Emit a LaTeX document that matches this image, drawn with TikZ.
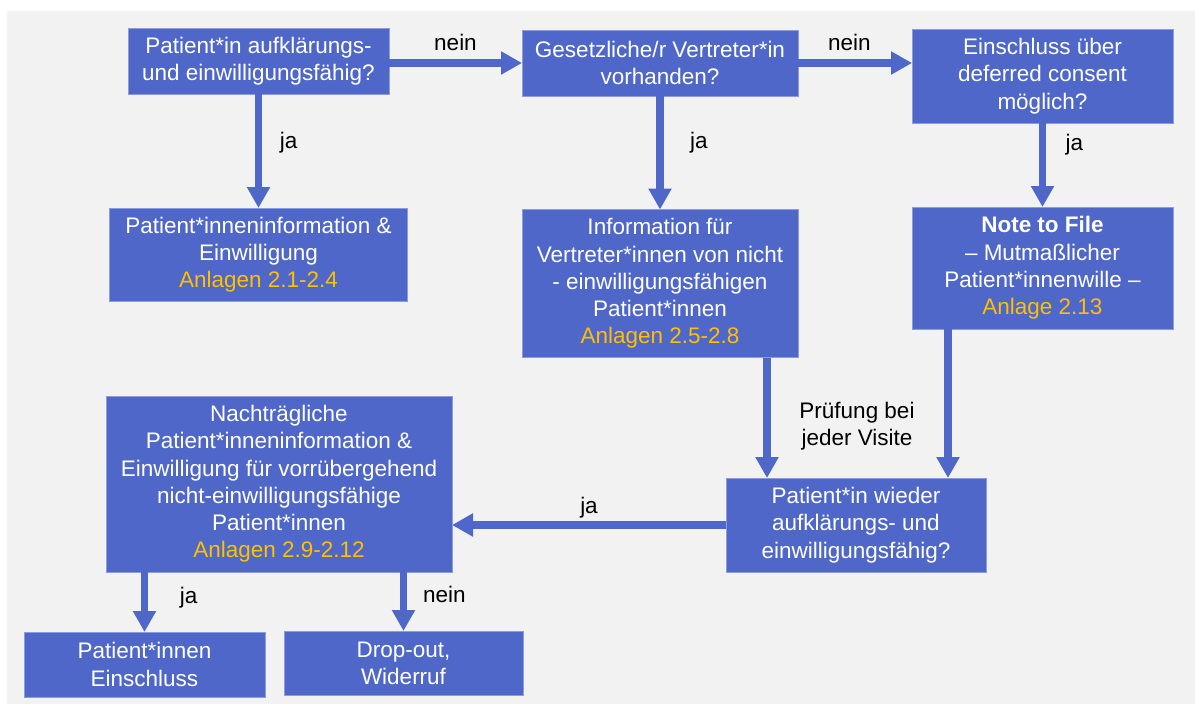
\documentclass[tikz,border=0pt]{standalone}
\usepackage{fontspec}
\setmainfont{Liberation Sans}
\usetikzlibrary{positioning,arrows.meta}
\definecolor{boxblue}{HTML}{4F67C8}
\definecolor{boxedge}{HTML}{8A9BDE}
\definecolor{anlage}{HTML}{FFC000}
\definecolor{bggray}{HTML}{F2F2F2}

\begin{document}
\begin{tikzpicture}[-,>={Triangle[width=0.44cm,length=0.42cm]},color=boxblue,line width=4.2pt,
    box/.style={rectangle,fill=boxblue,draw=boxedge,line width=0.5pt,text=white,align=center,inner sep=0pt,outer sep=0pt,font=\fontsize{12.8}{15.5}\selectfont},
    lbl/.style={text=black,inner sep=1pt,align=center,font=\fontsize{12.8}{15.5}\selectfont}]
                \useasboundingbox (0,0) rectangle (23.9,-14.08);
                \fill[bggray] (0.14,-0.22) rectangle (23.9,-14.08);

                \node[box,minimum width=5.22cm,minimum height=1.32cm] (aufkl) at (5.17,-1.22) {Patient*in aufklärungs-\\und einwilligungsfähig?};
                \node[box,minimum width=5.52cm,minimum height=1.32cm] (vertreter) [right=2.66cm of aufkl,yshift=-0.04cm] {Gesetzliche/r Vertreter*in\\vorhanden?};
                \node[box,minimum width=5.22cm,minimum height=1.88cm] (deferred) [right=2.28cm of vertreter.north east,anchor=north west,yshift=0.02cm] {Einschluss über\\deferred consent\\möglich?};
                \node[box,minimum width=5.96cm,minimum height=1.86cm] (info) [below=2.28cm of aufkl] {Patient*inneninformation \&\\Einwilligung\\\textcolor{anlage}{Anlagen 2.1-2.4}};
                \node[box,minimum width=5.52cm,minimum height=2.96cm] (infovertr) [below=2.27cm of vertreter] {Information für\\Vertreter*innen von nicht\\- einwilligungsfähigen\\Patient*innen\\\textcolor{anlage}{Anlagen 2.5-2.8}};
                \node[box,minimum width=5.22cm,minimum height=2.44cm] (notefile) [below=1.68cm of deferred] {\textbf{Note to File}\\– Mutmaßlicher\\Patient*innenwille –\\\textcolor{anlage}{Anlage 2.13}};
                \node[box,minimum width=5.2cm,minimum height=1.88cm] (wieder) at (17.12,-10.5) {Patient*in wieder\\aufklärungs- und\\einwilligungsfähig?};
                \node[box,minimum width=6.92cm,minimum height=3.52cm] (nachtr) [left=5.48cm of wieder.south west,anchor=south east] {Nachträgliche\\Patient*inneninformation \&\\Einwilligung für vorrübergehend\\nicht-einwilligungsfähige\\Patient*innen\\\textcolor{anlage}{Anlagen 2.9-2.12}};
                \node[box,minimum width=4.82cm,minimum height=1.30cm] (einschluss) [below=1.2cm of nachtr.south west,anchor=north west,xshift=-1.64cm] {Patient*innen\\Einschluss};
                \node[box,minimum width=4.78cm,minimum height=1.28cm] (dropout) [right=0.38cm of einschluss.north east,anchor=north west,yshift=0.02cm] {Drop-out,\\Widerruf};
                \node[lbl] (pruefung) at (17.14,-8.52) {Prüfung bei\\jeder Visite};

                \path[->]
                    (aufkl.east |- vertreter) edge node[lbl,above=4pt] {nein} (vertreter.west)
                    (vertreter.east) edge node[lbl,above=4pt,pos=0.45] {nein} (vertreter.east -| deferred.west)
                    (aufkl) edge node[lbl,right=9pt,pos=0.43] {ja} (info)
                    (vertreter) edge node[lbl,right=14pt,pos=0.41] {ja} (infovertr)
                    (deferred) edge node[lbl,right=10pt,pos=0.26] {ja} (notefile)
                    ([xshift=2.14cm]infovertr.south) edge ([xshift=2.14cm]infovertr.south |- wieder.north)
                    ([xshift=-1.89cm]notefile.south) edge ([xshift=-1.89cm]notefile.south |- wieder.north)
                    (wieder.west) edge node[lbl,above=1pt] {ja} (wieder.west -| nachtr.east)
                    (nachtr.south -| einschluss) edge node[lbl,right=17pt,pos=0.43] {ja} (einschluss)
                    (nachtr.south -| dropout) edge node[lbl,right=8pt,pos=0.38] {nein} (dropout)
                ;
            \end{tikzpicture}
\end{document}
